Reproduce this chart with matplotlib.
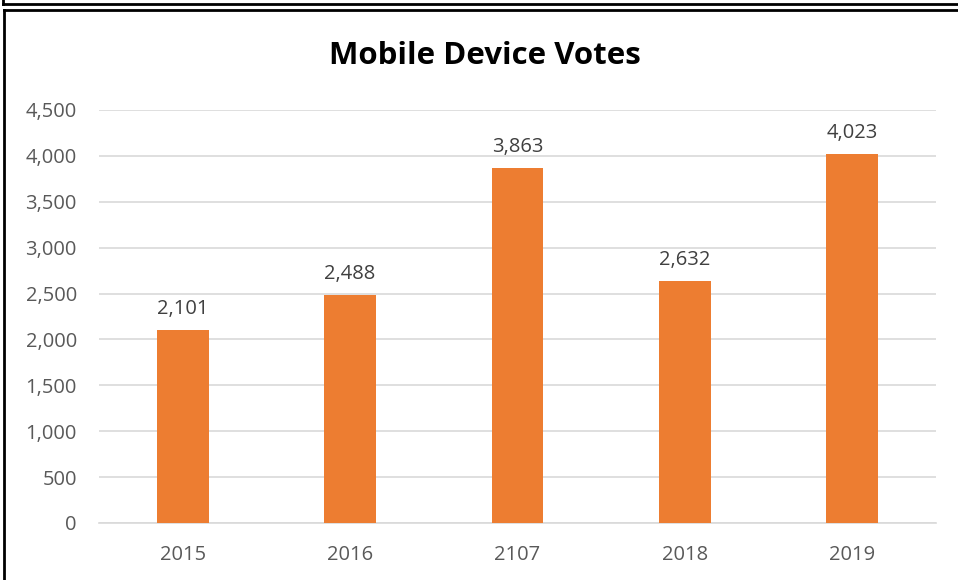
import matplotlib.pyplot as plt
from matplotlib.lines import Line2D
from matplotlib.ticker import FuncFormatter

# chart data
years = ['2015', '2016', '2107', '2018', '2019']
votes = [2101, 2488, 3863, 2632, 4023]
y_ticks = [0, 500, 1000, 1500, 2000, 2500, 3000, 3500, 4000, 4500]

W, H = 958, 580
plt.rcParams['font.family'] = ['Open Sans', 'DejaVu Sans']

fig = plt.figure(figsize=(W / 100, H / 100), dpi=100)
ax = fig.add_axes([99 / W, 1 - 523 / H, (936 - 99) / W, (523 - 110) / H])

x = range(len(years))
bars = ax.bar(x, votes, width=0.31, color='#ed7d31', zorder=3)

for b, v in zip(bars, votes):
    ax.annotate(f'{v:,}', (b.get_x() + b.get_width() / 2, v),
                xytext=(0, 8), textcoords='offset points',
                ha='center', va='bottom', fontsize=14.5, color='#404040')

ax.set_xlim(-0.5, len(years) - 0.5)
ax.set_ylim(0, 4500)
ax.set_yticks(y_ticks)
ax.yaxis.set_major_formatter(FuncFormatter(lambda v, p: f'{int(v):,}'))
ax.set_xticks(list(x))
ax.set_xticklabels(years)
ax.tick_params(axis='both', length=0, labelsize=14.5, labelcolor='#595959')
ax.tick_params(axis='x', pad=16)
ax.tick_params(axis='y', pad=16)
ax.grid(axis='y', color='#d9d9d9', linewidth=1.2, zorder=0)
for s in ['top', 'right', 'left']:
    ax.spines[s].set_visible(False)
ax.spines['bottom'].set_color('#d9d9d9')
ax.spines['bottom'].set_linewidth(1.2)

fig.text(485 / W, 1 - 56 / H, 'Mobile Device Votes', ha='center', va='center',
         fontsize=22.5, fontweight='bold', color='black')

# outer frame lines from the screenshot
def px_line(xs, ys, lw=2):
    fig.add_artist(Line2D([v / W for v in xs], [1 - v / H for v in ys],
                          transform=fig.transFigure, color='black', linewidth=lw))

px_line([3, 3], [0, 4])
px_line([3, W], [4, 4])
px_line([4, W], [10, 10])
px_line([4, 4], [10, H])

fig.savefig('out.png', dpi=100)
